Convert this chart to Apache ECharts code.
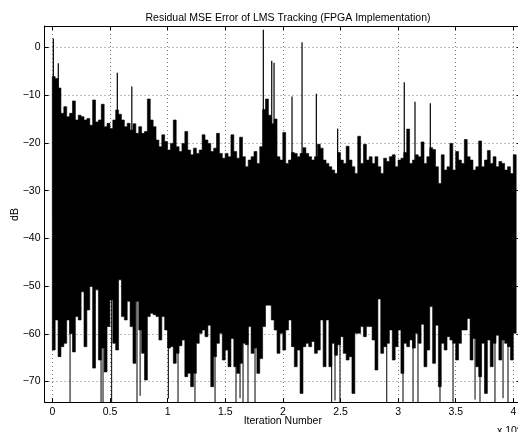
<!DOCTYPE html>
<html><head><meta charset="utf-8">
<script src="https://cdn.jsdelivr.net/npm/echarts@6/dist/echarts.min.js"></script>
<style>html,body{margin:0;padding:0;background:#fff}#c{width:518px;height:432px}</style>
</head><body><div id="c"></div><script>
// Residual MSE (dB) per block of iterations: upper and lower envelope of the trace
const sampleStep = 250; // iterations per envelope sample
const topDb = [
-6.1,-6.5,-8.5,-13.8,-12.4,-14.5,-13.8,-11.2,-15.2,-14.2,
-14.5,-15.2,-14.9,-16.3,-11.0,-15.6,-15.2,-11.9,-16.6,-15.9,
-17.0,-15.2,-13.1,-14.0,-15.2,-16.6,-15.9,-17.3,-16.0,-18.0,
-16.6,-18.0,-17.6,-10.8,-15.2,-16.6,-19.4,-20.8,-18.3,-19.7,
-21.5,-20.1,-15.2,-20.8,-21.8,-20.1,-17.6,-21.5,-22.5,-21.1,
-22.2,-21.5,-18.3,-19.4,-20.1,-21.8,-21.1,-18.0,-22.2,-23.2,
-22.2,-22.9,-18.3,-21.8,-23.2,-18.8,-22.9,-25.0,-23.6,-22.9,
-21.8,-24.3,-20.8,-13.0,-10.8,-14.2,-16.0,-15.0,-22.9,-23.6,
-17.8,-24.3,-23.6,-22.0,-22.2,-22.9,-22.2,-21.0,-22.2,-22.9,
-23.6,-22.9,-20.3,-21.1,-23.6,-24.3,-25.0,-25.7,-26.4,-22.0,
-23.6,-24.3,-20.7,-23.6,-25.0,-26.4,-18.6,-24.3,-20.3,-23.6,
-22.9,-24.3,-22.9,-25.0,-26.4,-23.2,-23.9,-22.9,-22.5,-25.0,
-23.6,-23.2,-22.0,-17.1,-24.3,-23.6,-22.5,-22.9,-19.8,-24.3,
-22.9,-21.0,-21.4,-25.0,-28.5,-22.5,-25.7,-25.0,-20.1,-25.7,
-21.8,-23.6,-24.3,-19.3,-22.9,-23.6,-25.7,-25.0,-19.6,-25.0,
-23.6,-21.6,-24.3,-22.9,-25.0,-23.9,-24.3,-25.7,-25.0,-26.4,
-22.5];
const bottomDb = [
-63.4,-57.1,-64.8,-62.7,-62.0,-57.1,-60.0,-63.8,-56.4,-57.1,
-51.2,-62.7,-55.0,-50.1,-67.2,-50.8,-65.5,-63.0,-68.0,-58.5,
-52.9,-62.0,-63.4,-48.7,-56.4,-57.1,-53.2,-58.5,-66.2,-53.2,
-59.2,-64.1,-69.7,-56.4,-55.7,-56.0,-56.4,-61.3,-56.4,-59.2,
-63.0,-62.7,-66.2,-64.1,-62.5,-61.3,-69.0,-68.3,-71.1,-68.3,
-62.0,-59.9,-59.2,-60.6,-58.2,-71.1,-64.8,-62.0,-59.9,-65.5,
-63.4,-66.9,-61.0,-66.9,-68.3,-66.2,-62.0,-62.3,-58.5,-64.1,
-63.0,-68.3,-65.2,-58.5,-54.0,-54.0,-57.1,-59.2,-64.1,-59.9,
-63.4,-59.2,-57.1,-62.7,-66.9,-63.4,-72.5,-62.7,-62.0,-62.7,
-61.6,-64.1,-63.4,-57.1,-66.9,-57.1,-66.9,-62.0,-64.5,-62.3,
-60.6,-64.1,-65.5,-64.8,-72.5,-59.9,-59.9,-58.5,-60.6,-58.5,
-58.5,-61.3,-67.6,-52.7,-64.1,-62.7,-62.0,-59.2,-65.5,-62.7,
-59.2,-68.3,-62.0,-62.7,-61.3,-63.0,-59.9,-62.0,-58.0,-66.9,
-63.4,-54.3,-66.2,-58.2,-71.1,-62.0,-63.4,-60.6,-61.3,-62.0,
-65.5,-62.0,-59.2,-59.2,-56.8,-65.5,-61.0,-66.9,-69.0,-62.0,
-72.5,-61.3,-66.9,-62.0,-60.3,-65.5,-61.3,-62.0,-62.7,-65.5,
-59.9];
// isolated tall upward spikes
const spikeIter = [90, 520, 5640, 6900, 18310, 19040, 19240, 20800, 21670, 22910, 24760, 30540, 31470, 32800];
const spikeDb   = [1.9, -3.3, -5.3, -8.2, 3.7, -2.8, -3.2, -10.3, 1.1, -9.7, -17.0, -7.3, -11.4, -11.7];
// isolated deep downward spikes
const dropIter = [1540, 4230, 4400, 5150, 7350, 7620, 10070, 10910, 12380, 14120, 15940, 16290, 16550, 16980, 17590, 24240, 24530, 24960, 29020, 30430, 31300, 31730, 33640, 34770, 36680, 37110, 38410, 39110, 39540];
const dropDb   = [-74.3, -74.3, -74.3, -74.3, -74.3, -73.0, -73.6, -74.3, -74.3, -74.3, -74.3, -73.5, -74.3, -74.3, -74.3, -74.3, -74.0, -74.3, -74.3, -74.3, -74.3, -74.3, -74.3, -74.3, -73.8, -74.3, -74.3, -73.5, -74.3];
// axis ticks
const xTicks = [0, 5000, 10000, 15000, 20000, 25000, 30000, 35000, 40000];
const xTickLabels = ['0', '0.5', '1', '1.5', '2', '2.5', '3', '3.5', '4'];
const yTicks = [-70, -60, -50, -40, -30, -20, -10, 0];
const yTickLabels = ['\u221270', '\u221260', '\u221250', '\u221240', '\u221230', '\u221220', '\u221210', '0'];

const FONT = 'Liberation Sans, Arial, Helvetica, sans-serif';
const spikeData = spikeIter.map((x, i) => [x, spikeDb[i]]);
const dropData = dropIter.map((x, i) => [x, dropDb[i]]);

const chart = echarts.init(document.getElementById('c'), null, {renderer: 'canvas'});
const dotted = {show: true, lineStyle: {color: '#7a7a7a', width: 1, type: [1, 3]}};
const tickIn = {show: true, inside: true, length: 4, lineStyle: {color: '#000', width: 1}};
const hidden = {show: false};
const boxLine = {show: true, onZero: false, lineStyle: {color: '#000', width: 1}};
chart.setOption({
  animation: false,
  backgroundColor: '#fff',
  title: {text: 'Residual MSE Error of LMS Tracking (FPGA Implementation)', left: 283, top: 8, textAlign: 'center',
    textStyle: {fontFamily: FONT, fontSize: 10.5, fontWeight: 'normal', color: '#000'}},
  grid: [
    {left: 44.5, top: 26, width: 476, height: 376, containLabel: false, outerBoundsMode: 'none'},
    {left: 52.3, top: 26, width: 461, height: 376, containLabel: false, outerBoundsMode: 'none'},
    {left: 44.5, top: 47.5, width: 476, height: 334, containLabel: false, outerBoundsMode: 'none'}
  ],
  xAxis: [
    {gridIndex: 0, type: 'value', min: -677, max: 40625, axisLine: boxLine, axisTick: hidden, axisLabel: hidden, splitLine: hidden},
    {gridIndex: 0, type: 'value', position: 'top', min: -677, max: 40625, axisLine: boxLine, axisTick: hidden, axisLabel: hidden, splitLine: hidden},
    {gridIndex: 1, type: 'value', min: xTicks[0], max: xTicks[xTicks.length - 1], interval: xTicks[1] - xTicks[0],
      axisLine: {show: false, onZero: false}, axisTick: tickIn, splitLine: dotted,
      axisLabel: {show: true, margin: 5, color: '#000', fontFamily: FONT, fontSize: 10.5, formatter: v => xTickLabels[xTicks.indexOf(v)]},
      name: 'Iteration Number', nameLocation: 'middle', nameGap: 14, nameMoveOverlap: false, nameTextStyle: {fontFamily: FONT, fontSize: 10.5, color: '#000'}},
    {gridIndex: 1, type: 'value', position: 'top', min: xTicks[0], max: xTicks[xTicks.length - 1], interval: xTicks[1] - xTicks[0],
      axisLine: {show: false, onZero: false}, axisTick: tickIn, axisLabel: hidden, splitLine: hidden},
    {gridIndex: 2, type: 'value', show: false, min: 0, max: 1}
  ],
  yAxis: [
    {gridIndex: 0, type: 'value', min: -74.3, max: 4.5, axisLine: boxLine, axisTick: hidden, axisLabel: hidden, splitLine: hidden},
    {gridIndex: 0, type: 'value', position: 'right', min: -74.3, max: 4.5, axisLine: boxLine, axisTick: hidden, axisLabel: hidden, splitLine: hidden},
    {gridIndex: 1, type: 'value', show: false, min: 0, max: 1},
    {gridIndex: 2, type: 'value', min: yTicks[0], max: yTicks[yTicks.length - 1], interval: yTicks[1] - yTicks[0],
      axisLine: {show: false, onZero: false}, axisTick: tickIn, splitLine: dotted,
      axisLabel: {show: true, margin: 4, color: '#000', fontFamily: FONT, fontSize: 10.5, formatter: v => yTickLabels[yTicks.indexOf(v)]},
      name: 'dB', nameLocation: 'middle', nameGap: 24, nameMoveOverlap: false, nameRotate: 90, nameTextStyle: {fontFamily: FONT, fontSize: 10.5, color: '#000'}},
    {gridIndex: 2, type: 'value', position: 'right', min: yTicks[0], max: yTicks[yTicks.length - 1], interval: yTicks[1] - yTicks[0],
      axisLine: {show: false, onZero: false}, axisTick: tickIn, axisLabel: hidden, splitLine: hidden}
  ],
  graphic: [
    {type: 'text', left: 497, top: 424, silent: true,
      style: {text: 'x 10{s|4}', rich: {s: {fontSize: 7.5, verticalAlign: 'top', padding: [0, 0, 6, 0]}}, font: '10.5px ' + FONT, fill: '#000'}}
  ],
  series: [
    {type: 'custom', xAxisIndex: 0, yAxisIndex: 0, clip: true, data: [0],
      renderItem: (params, api) => {
        // one solid polygon: upper envelope left->right, lower envelope right->left
        const pts = [];
        for (let i = 0; i < topDb.length; i++) {
          pts.push(api.coord([i * sampleStep, topDb[i]]));
          pts.push(api.coord([(i + 1) * sampleStep, topDb[i]]));
        }
        for (let i = bottomDb.length - 1; i >= 0; i--) {
          pts.push(api.coord([(i + 1) * sampleStep, bottomDb[i]]));
          pts.push(api.coord([i * sampleStep, bottomDb[i]]));
        }
        return {type: 'polygon', shape: {points: pts}, style: {fill: '#000', stroke: '#000', lineWidth: 0.6}};
      }},
    {type: 'custom', xAxisIndex: 0, yAxisIndex: 0, clip: true, data: spikeData,
      renderItem: (params, api) => {
        const p1 = api.coord([api.value(0), api.value(1)]);
        const p2 = api.coord([api.value(0), -35]);
        return {type: 'line', shape: {x1: p1[0], y1: p1[1], x2: p2[0], y2: p2[1]}, style: {stroke: '#000', lineWidth: 1.2}};
      }},
    {type: 'custom', xAxisIndex: 0, yAxisIndex: 0, clip: true, data: dropData,
      renderItem: (params, api) => {
        const p1 = api.coord([api.value(0), api.value(1)]);
        const p2 = api.coord([api.value(0), -50]);
        return {type: 'line', shape: {x1: p1[0], y1: p1[1], x2: p2[0], y2: p2[1]}, style: {stroke: '#000', lineWidth: 1}};
      }}
  ]
});
</script></body></html>
